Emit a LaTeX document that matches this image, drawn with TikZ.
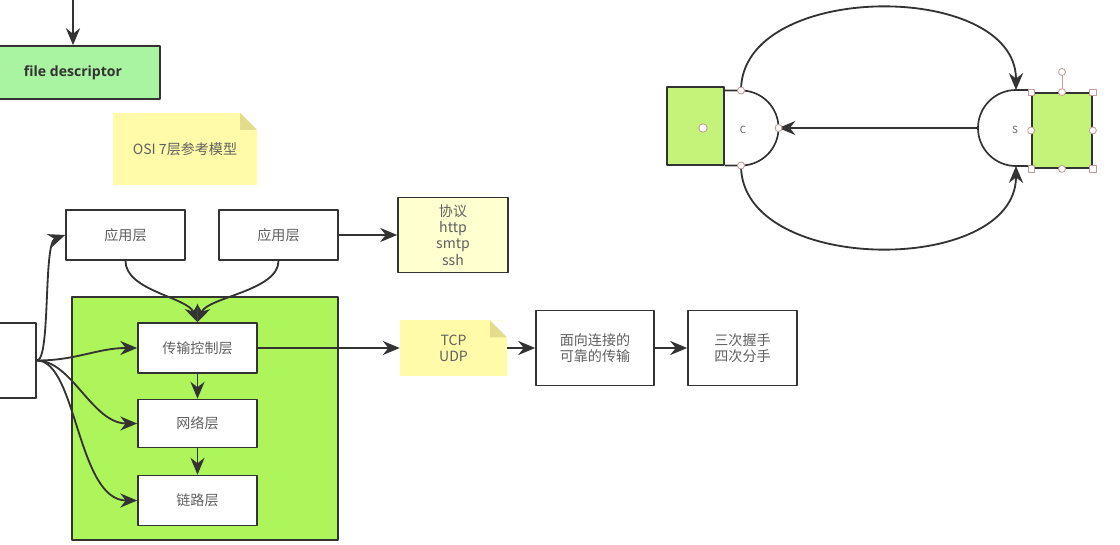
\documentclass[tikz,border=0pt]{standalone}
\usepackage{fontspec}
\setmainfont{Open Sans}
\newfontfamily\cjk{Noto Sans CJK SC}
\usetikzlibrary{arrows.meta}
\definecolor{ink}{HTML}{333333}
\definecolor{txt}{HTML}{606060}
\definecolor{fdgreen}{HTML}{A9F4A0}
\definecolor{lime}{HTML}{ADF55A}
\definecolor{limelt}{HTML}{C3F379}
\definecolor{notey}{HTML}{FFFBA8}
\definecolor{notefold}{HTML}{E2DC8C}
\definecolor{paley}{HTML}{FFFFD0}
\definecolor{handle}{HTML}{C49A9A}
\tikzset{fig/.style={line join=round,x=0.025cm,y=-0.025cm},
  lnk/.style={draw=ink,line width=1.3pt,-{Stealth[length=12pt,width=10pt]}},
  box/.style={draw=ink,line width=1.2pt,fill=white,inner sep=0pt,minimum width=2.975cm,minimum height=1.25cm,
    font=\cjk\fontsize{10}{11.5}\selectfont,text=txt,align=center},
  note/.style={fill=notey,inner sep=0pt,font=\cjk\fontsize{10}{11.5}\selectfont,text=txt,align=center,
    path picture={\fill[white]([xshift=-0.425cm]path picture bounding box.north east)--(path picture bounding box.north east)
      --([yshift=-0.425cm]path picture bounding box.north east)--cycle;
      \fill[notefold]([xshift=-0.425cm]path picture bounding box.north east)--([yshift=-0.425cm]path picture bounding box.north east)
      --([xshift=-0.425cm,yshift=-0.425cm]path picture bounding box.north east)--cycle;}},
  dshape/.style={draw=ink,line width=1.2pt},
  hdot/.style={circle,draw=handle,fill=white,line width=0.6pt,inner sep=0pt,minimum size=0.175cm},
  hsq/.style={rectangle,draw=handle,fill=white,line width=0.6pt,inner sep=0pt,minimum size=0.16cm}}

\begin{document}
\begin{tikzpicture}[fig]
  \useasboundingbox (0,0) rectangle (1120,545);
  \coordinate (fdin) at (73,-5);
  \node[box,fill=fdgreen,minimum width=4.35cm,minimum height=1.325cm,font=\bfseries\fontsize{10}{12}\selectfont,text=ink] (fd) at (73,72.5) {file descriptor};
  \draw[lnk] (fdin) -- (fd.north);
  \node[note,minimum width=3.6cm,minimum height=1.8cm] (osi) at (185,149) {OSI 7层参考模型};
  \node[box] (app1) at (125.5,235) {应用层};
  \node[box] (app2) at (278.5,235) {应用层};
  \node[box,minimum width=2.75cm,minimum height=1.875cm,fill=paley] (proto) at (453,235) {协议\\http\\smtp\\ssh};
  \node[draw=ink,line width=1.2pt,fill=lime,minimum width=6.65cm,minimum height=6.075cm] (stack) at (205,418.5) {};
  \node[box] (tcl) at (197.5,348) {传输控制层};
  \node[box,minimum height=1.2cm] (net) at (197.5,423.5) {网络层};
  \node[box] (link) at (197.5,500.5) {链路层};
  \node[box,minimum width=1.2cm,minimum height=1.875cm] (sock) at (12,360.5) {};
  \node[note,minimum width=2.675cm,minimum height=1.375cm] (tcp) at (453.5,348) {TCP\\UDP};
  \node[box,minimum width=2.95cm,minimum height=1.875cm] (conn) at (595,348) {面向连接的\\可靠的传输};
  \node[box,minimum width=2.725cm,minimum height=1.875cm] (shake) at (742.5,348) {三次握手\\四次分手};
  \draw[lnk] (sock.east) .. controls +(14,0) and +(-22,8) .. (app1.west);
  \draw[lnk] (sock.east) .. controls +(40,0) and +(-40,0) .. (tcl.west);
  \draw[lnk] (sock.east) .. controls +(35,0) and +(-45,0) .. (net.west);
  \draw[lnk] (sock.east) .. controls +(40,0) and +(-60,0) .. (link.west);
  \draw[lnk] (app1.south) .. controls +(0,30) and +(-10,-25) .. (tcl.north);
  \draw[lnk] (app2.south) .. controls +(0,30) and +(10,-25) .. (tcl.north);
  \draw[lnk] (app2.east) -- (proto.west);
  \draw[lnk] (tcl) -- (net);
  \draw[lnk] (net) -- (link);
  \draw[lnk] (tcl.east) -- (tcp.west);
  \draw[lnk] (tcp.east) -- (conn.west);
  \draw[lnk] (conn.east) -- (shake.west);
  % client / server
  \node[draw=ink,line width=1.2pt,fill=limelt,minimum width=1.425cm,minimum height=1.95cm] (crect) at (695.5,126) {};
  \node[draw=ink,line width=1.2pt,fill=limelt,minimum width=1.5cm,minimum height=1.875cm] (srect) at (1062,130.5) {};
  \coordinate (ctop) at (741,90.5);
  \coordinate (cbot) at (741,165.5);
  \coordinate (cright) at (778.5,128);
  \coordinate (stop) at (1016,90);
  \coordinate (sbot) at (1016,166);
  \coordinate (sleft) at (978,128);
  \draw[dshape] (crect.east |- ctop) -- (ctop) arc[start angle=90,end angle=-90,radius=0.9375cm] -- (crect.east |- cbot);
  \draw[dshape] (srect.west |- stop) -- (stop) arc[start angle=90,end angle=270,radius=0.95cm] -- (srect.west |- sbot);
  \node[font=\cjk\fontsize{7}{7}\selectfont,text=txt] (clab) at (743,130) {C};
  \node[font=\cjk\fontsize{7}{7}\selectfont,text=txt] (slab) at (1015,130) {S};
  \draw[lnk] (sleft) -- (cright);
  \draw[lnk] (ctop) .. controls +(0,-110) and +(0,-110) .. (stop);
  \draw[lnk] (cbot) .. controls +(0,110) and +(0,110) .. (sbot);
  \node[hdot] (hc1) at (ctop) {};
  \node[hdot] (hc2) at (cright) {};
  \node[hdot] (hc3) at (cbot) {};
  \node[hdot,minimum size=0.21cm] (hc4) at (703,128) {};
  \node[hdot] (hrot) at (1062,72) {};
  \draw[handle,line width=0.6pt] (hrot) -- (srect.north);
  \foreach \a in {north,south,east,west} \node[hdot] at (srect.\a) {};
  \foreach \a in {north east,north west,south east,south west} \node[hsq] at (srect.\a) {};
\end{tikzpicture}
\end{document}
